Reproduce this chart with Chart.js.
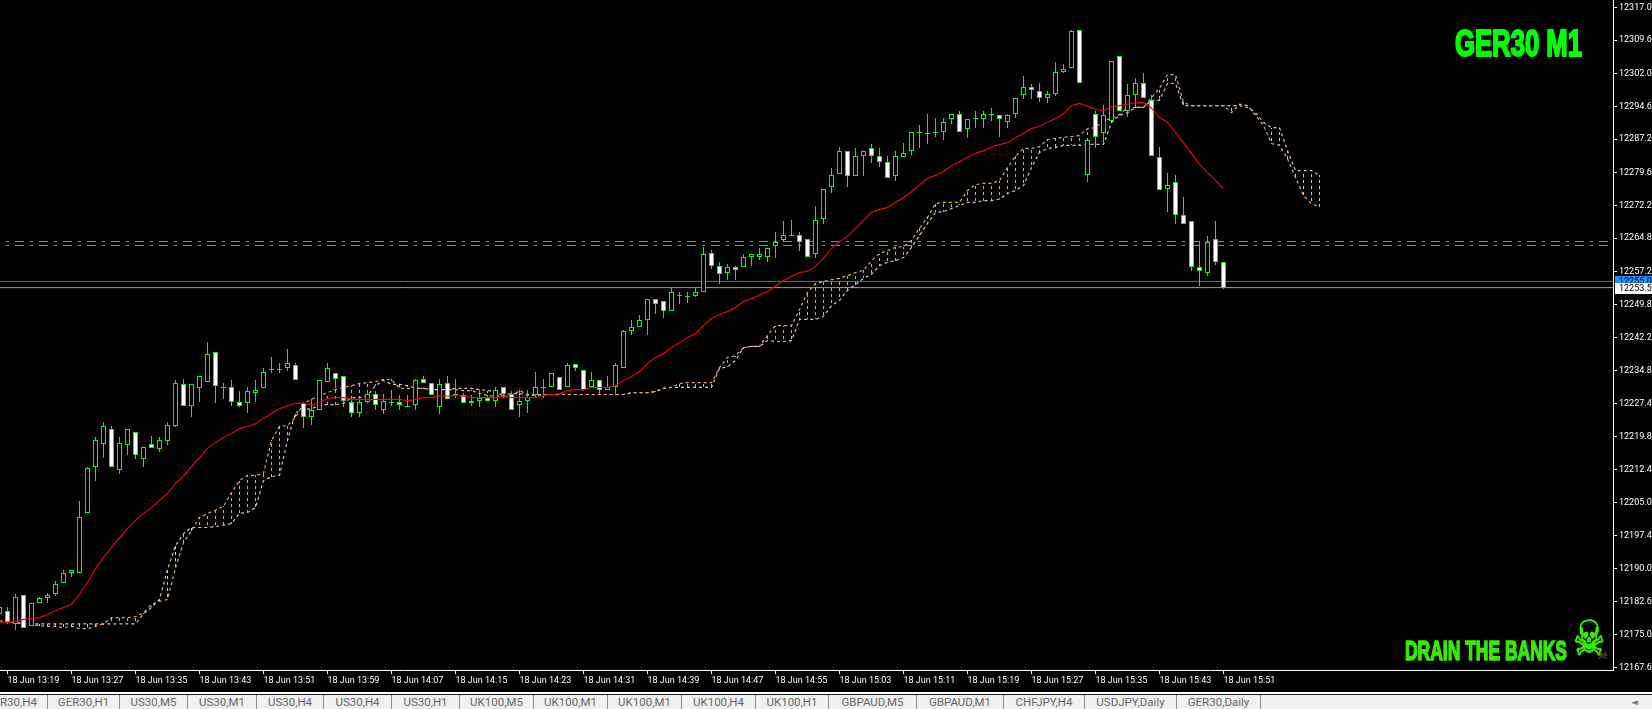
<!DOCTYPE html>
<html>
<head>
<meta charset="utf-8">
<title>GER30 M1</title>
<script src="https://cdn.jsdelivr.net/npm/chart.js@4"></script>
<style>
  html, body { margin: 0; background: #000; }
  #wrap { position: relative; width: 1652px; height: 709px; overflow: hidden; background: #000; }
  #chart { position: absolute; left: 0; top: 0; }
  .brand { position: absolute; white-space: nowrap; font-family: "Liberation Sans", sans-serif; font-weight: bold; transform-origin: left top; }
  #title { left: 1455px; top: 23px; font-size: 37px; color: #00ff00; -webkit-text-stroke: 2px #00ff00; }
  #slogan { left: 1405px; top: 635px; font-size: 28px; color: #33ee00; -webkit-text-stroke: 1.6px #33ee00; }
  #skull { position: absolute; left: 1573px; top: 610px; font: 36px "DejaVu Sans"; color: #33ee00; -webkit-text-stroke: 0.8px #33ee00; transform-origin: left top; transform: scaleY(1.35); }
  #skull2 { position: absolute; left: 1597px; top: 647px; font: 13px "DejaVu Sans"; color: #666; }
  #strip { position: absolute; left: 0; top: 692px; width: 1652px; height: 17px; background: #f0f0f0; border-top: 2px solid #fff; box-sizing: border-box; }
  #strip:before { content: ""; position: absolute; left: 0; right: 0; top: 0; height: 1px; background: #222; }
  .tab { position: absolute; top: 1px; height: 14px; font: 11.5px/15px Roboto, sans-serif; color: #666; text-align: center; border-right: 1px solid #888; box-sizing: border-box; white-space: nowrap; }
  #arrow { position: absolute; left: 1631px; top: 2px; font: 9px/13px "DejaVu Sans"; color: #777; }
</style>
</head>
<body>
<div id="wrap">
  <canvas id="chart" width="1652" height="692"></canvas>
  <div class="brand" id="title">GER30 M1</div>
  <div class="brand" id="slogan">DRAIN THE BANKS</div>
  <div id="skull">&#9760;</div>
  <div id="skull2">&#9760;</div>
  <div id="strip"><span id="arrow">&#9668;</span></div>
</div>
<script>
// one candle per minute, first one is 13:18
var opens = [
  12179.8,12180.5,12177.5,12184.1,12177.1,12182.3,12183.4,12184.3,12186.8,12188.9,
  12188.9,12202.5,12212.9,12218.3,12221.5,12212.4,12217.9,12221.0,12214.9,12218.1,
  12217.0,12218.8,12222.2,12231.7,12226.9,12230.8,12232.3,12239.1,12231.0,12231.0,
  12227.6,12227.4,12229.8,12230.8,12235.0,12235.0,12235.3,12236.0,12227.4,12224.4,
  12225.8,12232.3,12234.2,12233.5,12227.8,12225.3,12227.6,12229.6,12225.8,12227.6,
  12227.8,12226.5,12227.1,12232.8,12232.1,12226.5,12232.1,12229.2,12229.2,12228.0,
  12228.0,12228.5,12228.0,12231.0,12229.6,12227.1,12228.0,12229.4,12231.0,12231.0,
  12233.3,12231.0,12236.4,12235.0,12231.0,12232.6,12230.5,12231.0,12235.5,12243.7,
  12244.6,12246.2,12251.1,12250.5,12248.4,12251.6,12251.6,12251.8,12252.5,12261.5,
  12258.6,12256.8,12258.2,12258.2,12260.6,12260.6,12260.6,12263.1,12264.3,12265.2,
  12265.6,12264.5,12261.1,12269.2,12276.3,12279.4,12284.6,12278.8,12283.5,12285.1,
  12283.5,12282.1,12278.8,12283.1,12284.6,12288.8,12288.4,12288.9,12288.9,12291.7,
  12293.0,12289.6,12291.7,12291.7,12293.0,12292.6,12291.0,12293.0,12297.1,12299.1,
  12298.0,12296.6,12297.5,12302.5,12303.2,12312.0,12279.0,12293.0,12288.5,12291.4,
  12306.1,12293.5,12297.1,12299.8,12296.0,12283.1,12276.0,12277.6,12270.1,12268.6,
  12258.2,12256.8,12264.7,12259.3
];
var highs = [
  12181.4,12181.2,12184.3,12184.1,12182.1,12183.6,12184.5,12187.1,12189.6,12189.6,
  12205.2,12213.1,12219.7,12223.1,12222.2,12219.7,12221.5,12221.0,12217.6,12220.1,
  12219.7,12223.1,12232.6,12233.0,12231.7,12233.5,12241.2,12239.1,12232.1,12232.6,
  12230.1,12231.0,12232.6,12235.5,12238.0,12236.6,12239.6,12236.6,12227.8,12228.3,
  12232.6,12236.6,12234.2,12233.5,12228.5,12228.5,12230.1,12230.3,12229.6,12230.5,
  12229.2,12229.2,12233.0,12233.5,12232.1,12233.0,12233.5,12233.0,12229.8,12229.2,
  12230.5,12229.2,12231.0,12231.0,12230.1,12230.5,12230.5,12234.6,12233.0,12234.2,
  12233.3,12236.6,12236.4,12235.0,12234.6,12232.6,12233.5,12236.6,12244.1,12246.2,
  12247.5,12251.1,12251.1,12250.5,12253.4,12252.5,12252.5,12253.4,12262.9,12262.0,
  12259.5,12259.0,12258.6,12261.1,12261.1,12262.5,12262.5,12266.1,12268.6,12269.0,
  12266.1,12264.5,12272.0,12276.0,12280.6,12285.5,12284.6,12285.1,12284.6,12286.0,
  12285.1,12283.5,12284.6,12286.4,12288.9,12290.5,12293.0,12292.1,12292.1,12293.0,
  12293.5,12291.7,12293.5,12293.5,12294.2,12292.6,12293.0,12296.6,12301.6,12299.6,
  12300.0,12298.0,12304.6,12304.1,12312.0,12312.0,12287.1,12293.5,12295.0,12305.0,
  12306.1,12299.6,12301.0,12302.1,12297.1,12285.5,12279.6,12279.0,12274.0,12268.6,
  12264.0,12265.2,12268.6,12259.5
];
var lows = [
  12179.8,12177.5,12176.0,12176.5,12177.1,12182.1,12182.1,12183.9,12186.8,12188.0,
  12188.9,12202.5,12209.9,12215.1,12212.9,12211.3,12215.8,12214.9,12212.9,12217.2,
  12216.3,12217.9,12222.0,12226.9,12224.4,12227.8,12232.3,12227.4,12228.3,12226.9,
  12226.5,12225.3,12227.8,12230.8,12234.2,12234.2,12234.8,12232.6,12221.9,12222.4,
  12225.8,12232.3,12230.8,12226.5,12224.4,12224.4,12227.4,12225.8,12224.9,12226.9,
  12225.8,12226.5,12225.8,12232.1,12229.2,12224.9,12228.3,12228.5,12227.4,12226.9,
  12226.5,12228.0,12226.5,12228.5,12226.0,12224.4,12225.3,12228.7,12228.7,12231.0,
  12230.5,12231.0,12234.8,12230.1,12231.0,12229.6,12230.5,12229.2,12235.5,12242.8,
  12244.6,12242.8,12247.7,12246.8,12248.4,12250.0,12250.2,12251.4,12252.5,12257.9,
  12254.5,12255.4,12255.4,12258.2,12258.4,12259.9,12259.3,12260.4,12264.0,12265.2,
  12261.8,12260.6,12260.4,12267.9,12274.9,12279.4,12276.3,12278.8,12278.8,12281.9,
  12280.8,12278.5,12277.8,12283.1,12283.7,12285.3,12286.0,12287.8,12286.9,12290.7,
  12288.9,12287.4,12289.8,12289.8,12291.4,12287.8,12289.8,12291.9,12296.4,12296.4,
  12295.7,12295.3,12296.9,12302.1,12303.2,12300.0,12277.4,12285.3,12286.0,12291.4,
  12293.5,12292.3,12294.4,12296.6,12283.3,12275.6,12270.8,12267.9,12268.1,12257.3,
  12253.9,12256.3,12258.8,12253.2
];
var closes = [
  12181.2,12177.8,12183.6,12176.5,12182.1,12183.4,12184.1,12186.6,12189.1,12189.6,
  12201.6,12212.7,12219.0,12222.2,12212.9,12218.5,12221.5,12215.8,12217.6,12217.2,
  12219.0,12222.6,12232.1,12226.9,12231.7,12233.5,12238.5,12231.4,12231.2,12227.8,
  12226.9,12230.1,12230.5,12234.6,12235.1,12235.1,12236.6,12232.6,12224.4,12226.0,
  12232.6,12235.5,12233.0,12228.0,12225.3,12227.6,12229.6,12227.1,12228.0,12227.8,
  12227.1,12226.7,12232.6,12232.1,12229.2,12231.7,12228.3,12229.6,12227.4,12227.4,
  12228.5,12228.0,12230.5,12229.6,12226.0,12228.0,12228.9,12231.0,12231.1,12234.2,
  12230.5,12236.0,12235.5,12230.5,12232.6,12230.5,12231.0,12236.0,12243.7,12244.6,
  12246.2,12251.1,12250.0,12248.4,12252.5,12252.0,12251.7,12252.5,12261.1,12258.4,
  12256.6,12258.2,12257.5,12260.6,12261.1,12261.1,12262.5,12264.0,12265.6,12265.6,
  12264.0,12260.6,12269.0,12276.0,12279.0,12284.6,12278.8,12283.5,12284.6,12283.5,
  12282.1,12278.5,12283.5,12284.0,12288.9,12288.9,12288.5,12288.5,12291.0,12293.0,
  12288.9,12291.7,12292.1,12293.0,12292.6,12291.7,12292.6,12296.6,12299.1,12298.4,
  12296.6,12297.5,12302.5,12303.0,12311.6,12300.0,12287.1,12287.6,12292.6,12305.0,
  12293.5,12297.1,12300.0,12296.6,12283.3,12275.6,12276.9,12270.1,12268.1,12258.2,
  12257.3,12264.0,12259.5,12253.6
];
var maLine = [
  12178.0,12177.8,12178.0,12178.5,12178.7,12178.9,12179.6,12180.5,12181.2,12181.9,
  12184.3,12186.8,12190.0,12192.5,12194.8,12197.0,12199.1,12200.9,12202.5,12203.8,
  12205.4,12207.0,12209.3,12211.1,12213.1,12215.1,12217.2,12218.5,12219.7,12220.6,
  12221.7,12222.2,12222.8,12224.0,12225.1,12226.2,12226.9,12227.4,12227.4,12227.1,
  12227.6,12228.5,12228.7,12228.7,12228.3,12228.3,12228.3,12228.3,12228.3,12228.3,
  12228.3,12228.0,12228.3,12228.7,12228.7,12229.2,12229.0,12229.2,12229.0,12228.7,
  12228.7,12228.7,12228.7,12229.0,12228.7,12228.7,12228.7,12228.7,12229.2,12229.4,
  12229.6,12230.3,12230.5,12230.5,12231.0,12231.0,12231.0,12231.4,12232.6,12233.5,
  12234.6,12236.4,12237.8,12238.7,12240.0,12241.2,12242.3,12243.2,12245.0,12246.6,
  12247.5,12248.2,12249.1,12250.5,12251.1,12252.0,12252.7,12253.9,12255.2,12256.1,
  12257.0,12257.3,12258.4,12260.2,12262.5,12264.0,12265.2,12267.0,12268.8,12270.6,
  12271.3,12271.7,12272.9,12274.0,12275.3,12276.9,12278.3,12279.0,12279.9,12281.2,
  12282.1,12283.1,12284.0,12284.6,12285.5,12286.0,12286.4,12287.6,12288.5,12289.6,
  12290.1,12291.0,12291.9,12293.0,12294.8,12295.3,12294.6,12293.9,12293.7,12294.6,
  12294.8,12295.1,12295.5,12295.5,12294.2,12292.1,12291.0,12288.7,12286.4,12284.0,
  12281.5,12279.6,12277.8,12276.0
];
var spanA = [
  12178.2,12178.0,12177.8,12177.5,12177.3,12177.1,12176.9,12176.9,12176.6,12176.9,
  12176.4,12176.4,12176.9,12177.5,12178.9,12178.9,12178.9,12179.1,12180.0,12181.9,
  12182.6,12183.0,12190.2,12195.9,12198.6,12201.6,12202.5,12203.2,12204.1,12207.2,
  12209.9,12211.1,12211.1,12211.5,12219.0,12222.2,12222.4,12224.2,12227.4,12228.3,
  12229.2,12229.8,12230.5,12231.0,12231.4,12231.9,12232.1,12232.3,12232.8,12232.8,
  12230.8,12230.8,12230.8,12230.8,12230.5,12230.5,12230.5,12230.5,12230.3,12230.3,
  12229.6,12229.2,12229.0,12229.2,12229.6,12229.6,12229.2,12229.2,12229.4,12229.4,
  12229.4,12229.4,12229.4,12229.4,12229.4,12229.4,12229.4,12229.4,12229.4,12229.8,
  12229.8,12229.8,12230.1,12230.8,12231.0,12231.9,12232.1,12232.1,12232.1,12232.1,
  12235.5,12237.8,12238.2,12240.0,12240.3,12240.3,12242.8,12245.0,12245.0,12245.0,
  12248.6,12252.5,12254.5,12255.0,12255.4,12255.7,12256.3,12257.0,12257.5,12259.7,
  12261.3,12262.0,12262.7,12262.9,12264.3,12267.0,12269.5,12272.6,12272.9,12272.9,
  12272.9,12275.6,12276.9,12277.2,12277.2,12277.8,12280.8,12283.3,12285.1,12285.1,
  12285.5,12287.1,12287.4,12287.6,12287.8,12288.0,12289.6,12289.8,12291.4,12291.9,
  12292.8,12294.4,12294.4,12294.4,12296.6,12298.7,12301.8,12301.8,12295.5,12294.8,
  12294.8,12294.8,12294.8,12294.8,12293.2,12295.1,12294.8,12292.6,12290.3,12286.2,
  12285.8,12282.8,12278.5,12274.4,12272.6,12271.9
];
var spanB = [
  12178.0,12177.8,12177.8,12177.5,12177.5,12177.5,12177.5,12177.5,12177.5,12177.5,
  12177.5,12177.5,12177.5,12177.5,12177.5,12177.5,12177.5,12177.5,12179.8,12181.2,
  12183.0,12189.8,12195.2,12197.9,12199.3,12199.3,12199.3,12199.5,12199.8,12200.2,
  12202.5,12202.7,12203.8,12209.9,12210.8,12211.1,12219.0,12225.3,12226.0,12226.2,
  12226.9,12227.1,12227.1,12227.4,12228.7,12228.7,12229.2,12231.4,12232.6,12231.7,
  12231.7,12231.4,12230.8,12230.8,12230.5,12230.5,12230.5,12230.8,12230.8,12230.8,
  12230.5,12230.3,12230.1,12229.0,12229.0,12230.3,12229.4,12229.4,12229.4,12229.4,
  12229.4,12229.4,12229.4,12229.4,12229.4,12229.4,12229.4,12229.4,12229.4,12229.8,
  12229.8,12229.8,12230.1,12230.8,12231.0,12231.0,12231.0,12231.0,12231.0,12231.0,
  12235.3,12235.7,12237.1,12240.0,12240.3,12240.3,12241.6,12241.4,12241.4,12241.6,
  12246.4,12246.4,12246.4,12247.1,12249.5,12250.7,12253.0,12254.3,12255.7,12256.6,
  12258.6,12259.3,12259.7,12260.4,12262.7,12265.4,12268.1,12270.6,12270.8,12271.5,
  12272.2,12272.9,12272.9,12273.3,12273.3,12273.6,12274.9,12275.6,12276.7,12280.8,
  12284.2,12285.1,12285.3,12285.8,12285.8,12285.8,12286.0,12286.0,12286.0,12291.0,
  12292.6,12293.2,12294.4,12294.4,12296.0,12296.0,12299.8,12299.8,12294.8,12294.8,
  12294.8,12294.8,12294.8,12294.8,12294.8,12294.8,12294.4,12293.2,12291.0,12289.8,
  12289.8,12284.6,12280.1,12280.1,12280.1,12279.0
];

var yTickLabels = ["12317.0","12309.6","12302.0","12294.6","12287.2","12279.6","12272.2","12264.8","12257.2","12249.8","12242.2","12234.8","12227.4","12219.8","12212.4","12205.0","12197.4","12190.0","12182.6","12175.0","12167.6"];
var xTickBars = [1,9,17,25,33,41,49,57,65,73,81,89,97,105,113,121,129,137,145,153];
var xTickLabels = ["18 Jun 13:19","18 Jun 13:27","18 Jun 13:35","18 Jun 13:43","18 Jun 13:51","18 Jun 13:59","18 Jun 14:07","18 Jun 14:15","18 Jun 14:23","18 Jun 14:31","18 Jun 14:39","18 Jun 14:47","18 Jun 14:55","18 Jun 15:03","18 Jun 15:11","18 Jun 15:19","18 Jun 15:27","18 Jun 15:35","18 Jun 15:43","18 Jun 15:51"];
var greenLevels = [12264.03, 12263.14];
var bidLevel = 12255.0, askLevel = 12253.6;
var bidText = "12255.0", askText = "12253.5";
var tabLabels = ["R30,H4","GER30,H1","US30,M5","US30,M1","US30,H4","US30,H4","US30,H1","UK100,M5","UK100,M1","UK100,M1","UK100,H4","UK100,H1","GBPAUD,M5","GBPAUD,M1","CHFJPY,H4","USDJPY,Daily","GER30,Daily"];
var tabEdges = [0,48,120,188,257,324,392,460,534,608,682,756,829,917,1004,1085,1177,1261];

var xMin = 0.0625, xMax = 201.6875;
var GREEN = "#00ff00", axisFont = { family: "Roboto", size: 9 };

// the heavy poster lettering is squeezed into the width it has in the picture
function squeeze(id, target) {
  var el = document.getElementById(id);
  el.style.transform = "scaleX(" + (target / el.getBoundingClientRect().width) + ")";
}
squeeze("title", 127);
squeeze("slogan", 162);

// tab strip under the chart
var strip = document.getElementById("strip");
tabLabels.forEach(function (t, i) {
  var d = document.createElement("div");
  d.className = "tab";
  d.textContent = t;
  d.style.left = tabEdges[i] + "px";
  d.style.width = (tabEdges[i + 1] - tabEdges[i]) + "px";
  if (i === 0) { d.style.textAlign = "right"; d.style.paddingRight = "11px"; }
  strip.appendChild(d);
});

function dotPattern(color) {
  var c = document.createElement("canvas");
  c.width = 1; c.height = 6;
  var g = c.getContext("2d");
  g.fillStyle = color;
  g.fillRect(0, 0, 1, 3);
  return g.createPattern(c, "repeat");
}
var orangeDots = dotPattern("#f4a460"), thistleDots = dotPattern("#d8bfd8");

function pts(arr) { return arr.map(function (v, k) { return { x: k, y: v }; }); }
function level(v) { return [{ x: xMin, y: v }, { x: xMax, y: v }]; }
function hline(v, color, extra) {
  return Object.assign({ type: "line", data: level(v), borderColor: color, borderWidth: 1, pointRadius: 0, order: 6 }, extra || {});
}

// snap bar edges to whole pixels, the terminal draws without smoothing
var snapBars = {
  id: "snapBars",
  afterDatasetsUpdate: function (chart) {
    chart.getSortedVisibleDatasetMetas().forEach(function (meta) {
      if (meta.type !== "bar") return;
      meta.data.forEach(function (el) {
        el.y = Math.round(el.y);
        el.base = Math.round(el.base);
        if (el.y === el.base) el.base += 1;
      });
    });
  }
};

var priceTags = {
  id: "priceTags",
  afterDraw: function (chart) {
    var c = chart.ctx, ys = chart.scales.y, x0 = chart.chartArea.right + 2;
    c.save();
    c.font = "9px Roboto";
    c.textBaseline = "middle";
    var yb = Math.round(ys.getPixelForValue(bidLevel)), ya = Math.round(ys.getPixelForValue(askLevel));
    c.fillStyle = "#1e90ff";
    c.fillRect(x0, yb - 5, 1652 - x0, 12);
    c.fillStyle = "#000";
    c.fillText(bidText, x0 + 4, yb + 1);
    c.fillStyle = "#fff";
    c.fillRect(x0, ya - 5, 1652 - x0, 11);
    c.fillStyle = "#000";
    c.fillText(askText, x0 + 4, ya + 1);
    c.restore();
  }
};

var dashDot = { borderDash: [9, 6, 3, 6], borderDashOffset: 9 };

new Chart(document.getElementById("chart").getContext("2d"), {
  type: "bar",
  data: {
    datasets: [
      { type: "line", data: pts(maLine), borderColor: "#ff0000", borderWidth: 1.1, pointRadius: 0, order: 1 },
      {
        data: closes.map(function (c, k) { return { x: k, y: [opens[k], c] }; }),
        backgroundColor: closes.map(function (c, k) { return c < opens[k] ? "#ffffff" : "#000000"; }),
        borderColor: GREEN, borderWidth: 1, borderSkipped: false, barThickness: 5, inflateAmount: 0, order: 2
      },
      {
        data: highs.map(function (h, k) { return { x: k, y: [lows[k], h] }; }),
        backgroundColor: GREEN, borderWidth: 0, barThickness: 1, inflateAmount: 0, order: 3
      },
      { type: "line", data: pts(spanA), borderColor: "#f4a460", borderWidth: 1.2, borderDash: [3, 3], pointRadius: 0, order: 4 },
      { type: "line", data: pts(spanB), borderColor: "#d8bfd8", borderWidth: 1.2, borderDash: [3, 3], pointRadius: 0, order: 4 },
      {
        data: spanA.map(function (a, k) { return { x: k, y: [spanB[k], a] }; }),
        backgroundColor: spanA.map(function (a, k) { return a >= spanB[k] ? orangeDots : thistleDots; }),
        borderWidth: 0, barThickness: 1, inflateAmount: 0, order: 5
      },
      hline(greenLevels[0], "#32cd32", dashDot),
      hline(greenLevels[1], "#32cd32", dashDot),
      hline(bidLevel, "#2f80d8"),
      hline(askLevel, "#9a9a9a")
    ]
  },
  plugins: [snapBars, priceTags],
  options: {
    responsive: false,
    devicePixelRatio: 1,
    animation: false,
    events: [],
    layout: { padding: 0 },
    datasets: { bar: { grouped: false } },
    plugins: { legend: { display: false }, tooltip: { enabled: false } },
    scales: {
      x: {
        type: "linear", position: "bottom", min: xMin, max: xMax, offset: false,
        grid: { drawOnChartArea: false, color: "#fff", tickLength: 4, offset: false },
        border: { color: "#fff", width: 1 },
        afterBuildTicks: function (s) { s.ticks = xTickBars.map(function (v) { return { value: v }; }); },
        afterFit: function (s) { s.height = 22; s.paddingLeft = 0; s.paddingRight = 0; },
        ticks: {
          color: "#fff", font: axisFont, align: "start", autoSkip: false, maxRotation: 0, padding: 1,
          callback: function (v, i) { return xTickLabels[i]; }
        }
      },
      y: {
        type: "linear", position: "right", min: 12167.04, max: 12318.7,
        grid: { drawOnChartArea: false, color: "#fff", tickLength: 4 },
        border: { color: "#fff", width: 1 },
        afterBuildTicks: function (s) { s.ticks = yTickLabels.map(function (v) { return { value: parseFloat(v) }; }); },
        afterFit: function (s) { s.width = 39; s.paddingTop = 0; s.paddingBottom = 0; },
        ticks: {
          color: "#fff", font: axisFont, autoSkip: false, padding: 2,
          callback: function (v, i) { return yTickLabels[i]; }
        }
      }
    }
  }
});
</script>
</body>
</html>
